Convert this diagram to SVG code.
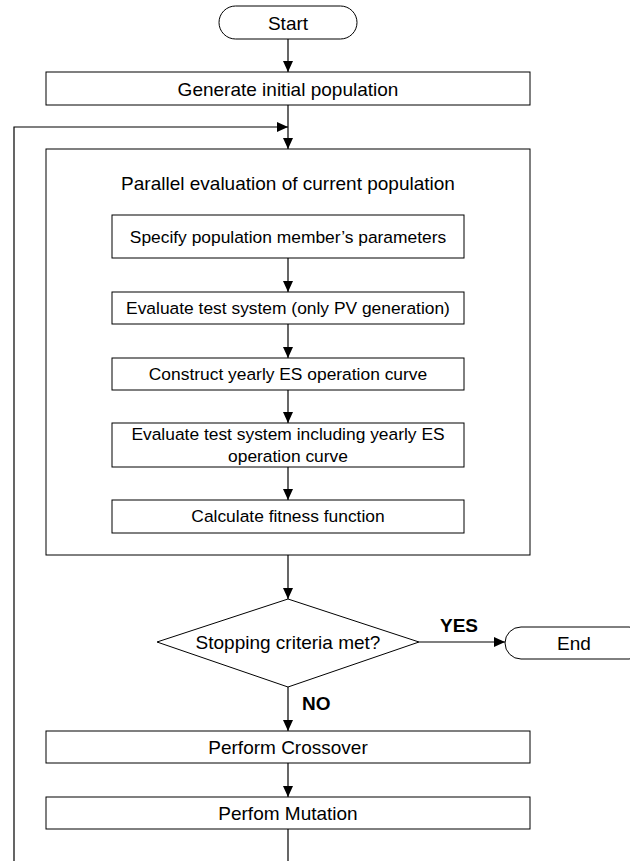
<svg xmlns="http://www.w3.org/2000/svg" width="630" height="861" viewBox="0 0 630 861">
<defs>
<marker id="ah" markerWidth="12" markerHeight="12" refX="11" refY="5.5" orient="auto" markerUnits="userSpaceOnUse">
<path d="M0,0.5 L11,5.5 L0,10.5 Z" fill="#000"/>
</marker>
<style>
.b{fill:#fff;stroke:#000;stroke-width:1}
.t{font-family:"Liberation Sans",Arial,sans-serif;font-size:19px;fill:#000;text-anchor:middle;dominant-baseline:central}
.s{font-size:17.4px}
.l{fill:#000;font-family:"Liberation Sans",Arial,sans-serif;font-size:19px;font-weight:bold;dominant-baseline:central}
.c{fill:none;stroke:#000;stroke-width:1.2}
</style>
</defs>
<rect width="630" height="861" fill="#fff"/>
<g id="start"><rect class="b" x="219" y="6" width="138" height="33" rx="16.5"/><text class="t" x="288" y="23">Start</text></g>
<g id="generate"><rect class="b" x="46" y="72" width="484" height="33"/><text class="t" x="288" y="89">Generate initial population</text></g>
<g id="parallel"><rect class="b" x="46" y="149" width="484" height="406" stroke-width="1.5"/><text class="t" x="288" y="183">Parallel evaluation of current population</text></g>
<g id="specify"><rect class="b" x="112" y="215" width="352" height="43"/><text class="t s" x="288" y="237">Specify population member’s parameters</text></g>
<g id="evaluate1"><rect class="b" x="112" y="292" width="352" height="32"/><text class="t s" x="288" y="308">Evaluate test system (only PV generation)</text></g>
<g id="construct"><rect class="b" x="112" y="358" width="352" height="32"/><text class="t s" x="288" y="374">Construct yearly ES operation curve</text></g>
<g id="evaluate2"><rect class="b" x="112" y="423" width="352" height="44"/><text class="t s" x="288" y="434">Evaluate test system including yearly ES</text><text class="t s" x="288" y="456">operation curve</text></g>
<g id="fitness"><rect class="b" x="112" y="500" width="352" height="33"/><text class="t s" x="288" y="516">Calculate fitness function</text></g>
<g id="decision"><polygon class="b" points="288,599 419,642 288,687 157,642"/><text class="t" x="288" y="642">Stopping criteria met?</text></g>
<g id="end"><rect class="b" x="505" y="627" width="140" height="32" rx="16"/><text class="t" x="574" y="643">End</text></g>
<g id="crossover"><rect class="b" x="46" y="731" width="484" height="32"/><text class="t" x="288" y="747">Perform Crossover</text></g>
<g id="mutation"><rect class="b" x="46" y="797" width="484" height="32"/><text class="t" x="288" y="813">Perfom Mutation</text></g>
<g id="connectors">
<line class="c" x1="288" y1="39" x2="288" y2="72" marker-end="url(#ah)"/>
<line class="c" x1="288" y1="105" x2="288" y2="149" marker-end="url(#ah)"/>
<polyline class="c" points="14,861 14,127 288,127" marker-end="url(#ah)"/>
<line class="c" x1="288" y1="258" x2="288" y2="292" marker-end="url(#ah)"/>
<line class="c" x1="288" y1="324" x2="288" y2="358" marker-end="url(#ah)"/>
<line class="c" x1="288" y1="390" x2="288" y2="423" marker-end="url(#ah)"/>
<line class="c" x1="288" y1="467" x2="288" y2="500" marker-end="url(#ah)"/>
<line class="c" x1="288" y1="555" x2="288" y2="599" marker-end="url(#ah)"/>
<line class="c" x1="419" y1="642" x2="505" y2="642" marker-end="url(#ah)"/>
<line class="c" x1="288" y1="687" x2="288" y2="731" marker-end="url(#ah)"/>
<line class="c" x1="288" y1="763" x2="288" y2="797" marker-end="url(#ah)"/>
<line class="c" x1="288" y1="829" x2="288" y2="861"/>
<text class="l" x="440" y="625">YES</text>
<text class="l" x="302" y="703">NO</text>
</g>
</svg>
